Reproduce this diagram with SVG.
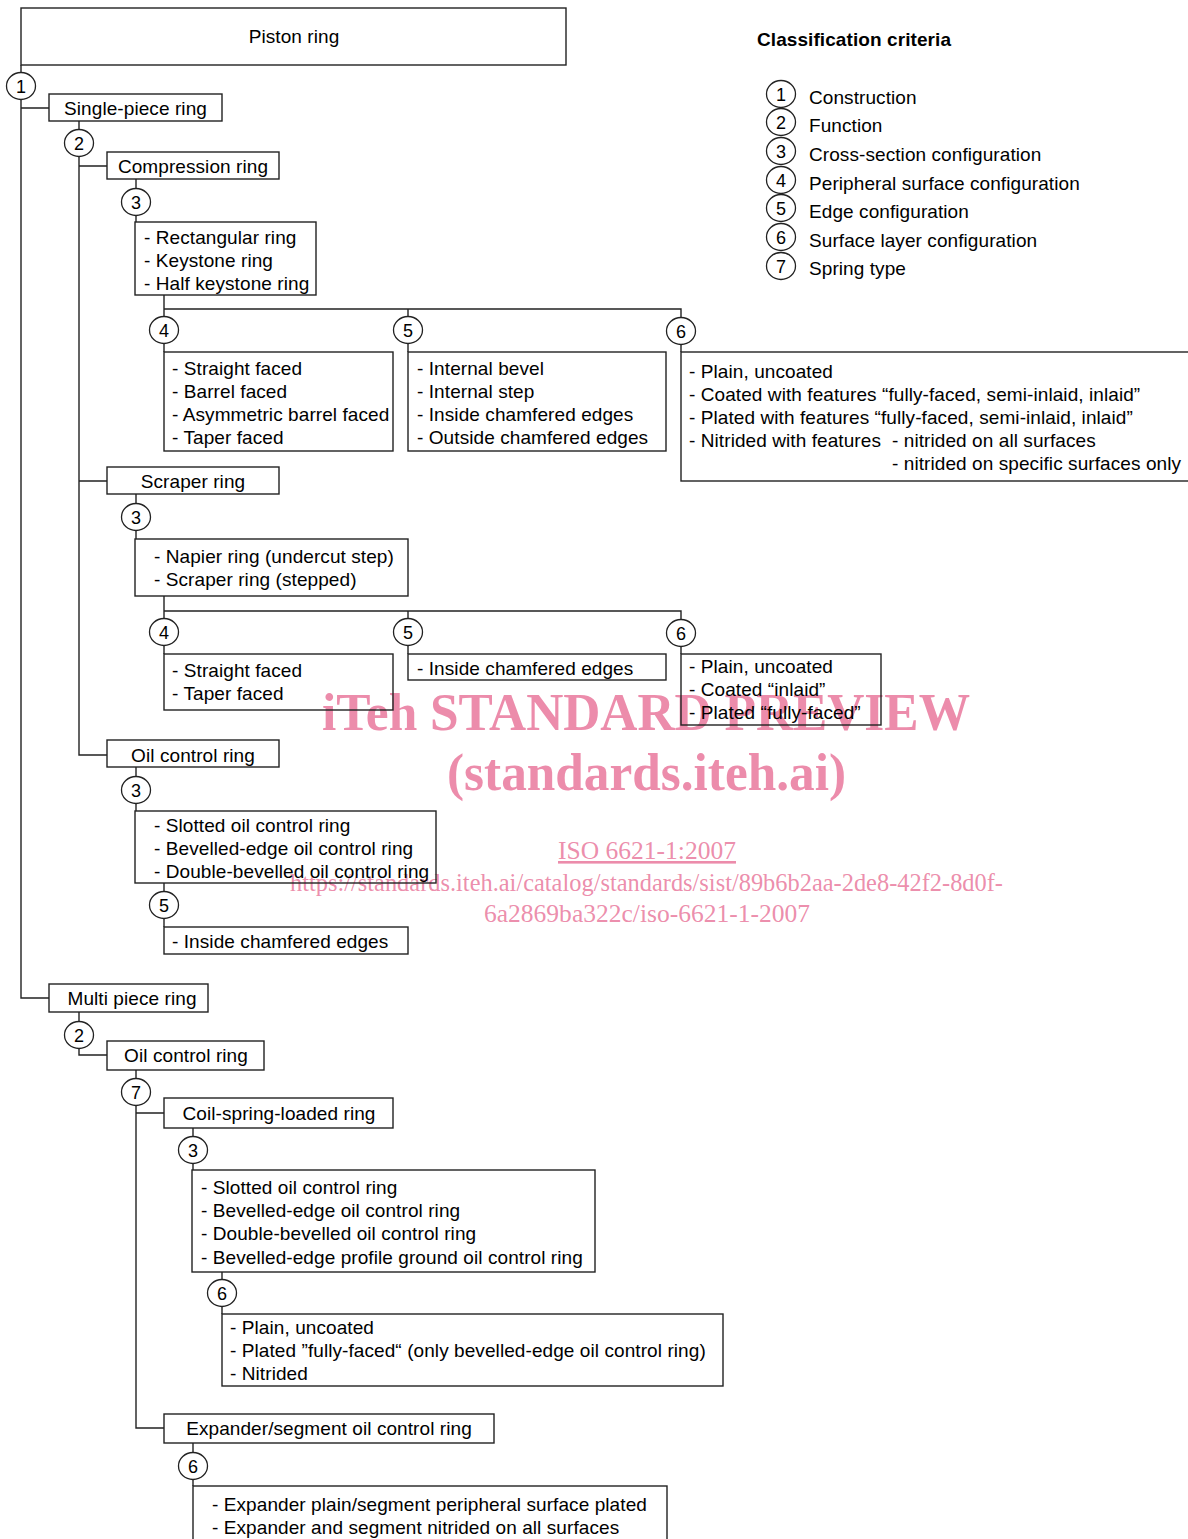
<svg xmlns="http://www.w3.org/2000/svg" width="1188" height="1539" viewBox="0 0 1188 1539">
<style>
.bx{fill:none;stroke:#222;stroke-width:1.4}
.ln{fill:none;stroke:#222;stroke-width:1.4}
.ci{fill:#fff;stroke:#222;stroke-width:1.3}
.t{font-family:"Liberation Sans",Arial,sans-serif;font-size:19px;fill:#000;letter-spacing:0.08px}
.c{text-anchor:middle}
.n{font-family:"Liberation Sans",Arial,sans-serif;font-size:18px;fill:#000;text-anchor:middle}
.b{font-weight:bold}
.wm{font-family:"Liberation Serif","Times New Roman",serif;fill:#ea7fa2;fill-opacity:0.9}
</style>
<rect width="1188" height="1539" fill="#fff"/>

<g id="watermark">
<text class="wm" x="322" y="730" font-size="52" font-weight="bold" textLength="648" lengthAdjust="spacingAndGlyphs">iTeh STANDARD PREVIEW</text>
<text class="wm" x="447" y="790" font-size="52" font-weight="bold" textLength="399" lengthAdjust="spacingAndGlyphs">(standards.iteh.ai)</text>
<text class="wm" x="558" y="859" font-size="26" text-decoration="underline" textLength="178" lengthAdjust="spacingAndGlyphs">ISO 6621-1:2007</text>
<text class="wm" x="290" y="891" font-size="26" textLength="713" lengthAdjust="spacingAndGlyphs">https://standards.iteh.ai/catalog/standards/sist/89b6b2aa-2de8-42f2-8d0f-</text>
<text class="wm" x="484" y="922" font-size="26" textLength="326" lengthAdjust="spacingAndGlyphs">6a2869ba322c/iso-6621-1-2007</text>
</g>

<g id="connectors">
<path class="ln" d="M21 65V998H49M21 108H49"/>
<path class="ln" d="M79 121V755H107M79 166H107M79 481H107"/>
<path class="ln" d="M136 179V222"/>
<path class="ln" d="M164 295V352M164 309H681V352M408 309V352"/>
<path class="ln" d="M136 494V539"/>
<path class="ln" d="M164 596V654M164 611H681V654M408 611V654"/>
<path class="ln" d="M136 767V811"/>
<path class="ln" d="M164 883V927"/>
<path class="ln" d="M79 1012V1055H107"/>
<path class="ln" d="M136 1070V1428H164M136 1113H164"/>
<path class="ln" d="M193 1128V1170"/>
<path class="ln" d="M222 1272V1314"/>
<path class="ln" d="M193 1443V1486"/>
</g>

<g id="piston-ring"><rect class="bx" x="21" y="8" width="545" height="57"/><text class="t c" x="294" y="43">Piston ring</text></g>
<g id="c1"><ellipse class="ci" cx="21" cy="86" rx="14.5" ry="13.5"/><text class="n" x="21" y="92.5">1</text></g>
<g id="single-piece"><rect class="bx" x="49" y="94" width="173" height="27"/><text class="t c" x="135.5" y="115">Single-piece ring</text></g>
<g id="c2a"><ellipse class="ci" cx="79" cy="143" rx="14.5" ry="13.5"/><text class="n" x="79" y="149.5">2</text></g>
<g id="compression"><rect class="bx" x="107" y="152" width="172" height="27"/><text class="t c" x="193" y="173">Compression ring</text></g>
<g id="c3a"><ellipse class="ci" cx="136" cy="202" rx="14.5" ry="13.5"/><text class="n" x="136" y="208.5">3</text></g>
<g id="comp-cross"><rect class="bx" x="135" y="222" width="181" height="73"/>
<text class="t" x="144" y="244">- Rectangular ring</text><text class="t" x="144" y="267">- Keystone ring</text><text class="t" x="144" y="290">- Half keystone ring</text></g>
<g id="c4a"><ellipse class="ci" cx="164" cy="330" rx="14.5" ry="13.5"/><text class="n" x="164" y="336.5">4</text></g>
<g id="c5a"><ellipse class="ci" cx="408" cy="330" rx="14.5" ry="13.5"/><text class="n" x="408" y="336.5">5</text></g>
<g id="c6a"><ellipse class="ci" cx="681" cy="331" rx="14.5" ry="13.5"/><text class="n" x="681" y="337.5">6</text></g>
<g id="comp-periph"><rect class="bx" x="164" y="352" width="229" height="99"/>
<text class="t" x="172" y="375">- Straight faced</text><text class="t" x="172" y="398">- Barrel faced</text><text class="t" x="172" y="421">- Asymmetric barrel faced</text><text class="t" x="172" y="444">- Taper faced</text></g>
<g id="comp-edge"><rect class="bx" x="408" y="352" width="258" height="99"/>
<text class="t" x="417" y="375">- Internal bevel</text><text class="t" x="417" y="398">- Internal step</text><text class="t" x="417" y="421">- Inside chamfered edges</text><text class="t" x="417" y="444">- Outside chamfered edges</text></g>
<g id="comp-surface"><rect class="bx" x="681" y="352" width="530" height="129"/>
<text class="t" x="689" y="378">- Plain, uncoated</text>
<text class="t" x="689" y="401">- Coated with features “fully-faced, semi-inlaid, inlaid”</text>
<text class="t" x="689" y="424">- Plated with features “fully-faced, semi-inlaid, inlaid”</text>
<text class="t" x="689" y="447">- Nitrided with features<tspan x="892">- nitrided on all surfaces</tspan></text>
<text class="t" x="892" y="470">- nitrided on specific surfaces only</text></g>

<g id="scraper"><rect class="bx" x="107" y="467" width="172" height="27"/><text class="t c" x="193" y="488">Scraper ring</text></g>
<g id="c3b"><ellipse class="ci" cx="136" cy="517" rx="14.5" ry="13.5"/><text class="n" x="136" y="523.5">3</text></g>
<g id="scraper-cross"><rect class="bx" x="135" y="539" width="273" height="57"/>
<text class="t" x="154" y="563">- Napier ring (undercut step)</text><text class="t" x="154" y="586">- Scraper ring (stepped)</text></g>
<g id="c4b"><ellipse class="ci" cx="164" cy="632" rx="14.5" ry="13.5"/><text class="n" x="164" y="638.5">4</text></g>
<g id="c5b"><ellipse class="ci" cx="408" cy="632" rx="14.5" ry="13.5"/><text class="n" x="408" y="638.5">5</text></g>
<g id="c6b"><ellipse class="ci" cx="681" cy="633" rx="14.5" ry="13.5"/><text class="n" x="681" y="639.5">6</text></g>
<g id="scraper-periph"><rect class="bx" x="164" y="654" width="229" height="56"/>
<text class="t" x="172" y="677">- Straight faced</text><text class="t" x="172" y="700">- Taper faced</text></g>
<g id="scraper-edge"><rect class="bx" x="408" y="654" width="258" height="26"/>
<text class="t" x="417" y="675">- Inside chamfered edges</text></g>
<g id="scraper-surface"><rect class="bx" x="681" y="654" width="200" height="71"/>
<text class="t" x="689" y="673">- Plain, uncoated</text><text class="t" x="689" y="696">- Coated “inlaid”</text><text class="t" x="689" y="719">- Plated “fully-faced”</text></g>

<g id="oil-single"><rect class="bx" x="107" y="740" width="172" height="27"/><text class="t c" x="193" y="762">Oil control ring</text></g>
<g id="c3c"><ellipse class="ci" cx="136" cy="790" rx="14.5" ry="13.5"/><text class="n" x="136" y="796.5">3</text></g>
<g id="oil-cross"><rect class="bx" x="135" y="811" width="301" height="72"/>
<text class="t" x="154" y="832">- Slotted oil control ring</text><text class="t" x="154" y="855">- Bevelled-edge oil control ring</text><text class="t" x="154" y="878">- Double-bevelled oil control ring</text></g>
<g id="c5c"><ellipse class="ci" cx="164" cy="905" rx="14.5" ry="13.5"/><text class="n" x="164" y="911.5">5</text></g>
<g id="oil-edge"><rect class="bx" x="164" y="927" width="244" height="27"/>
<text class="t" x="172" y="948">- Inside chamfered edges</text></g>

<g id="multi-piece"><rect class="bx" x="49" y="984" width="159" height="28"/><text class="t c" x="132" y="1005">Multi piece ring</text></g>
<g id="c2b"><ellipse class="ci" cx="79" cy="1035" rx="14.5" ry="13.5"/><text class="n" x="79" y="1041.5">2</text></g>
<g id="oil-multi"><rect class="bx" x="107" y="1041" width="157" height="29"/><text class="t c" x="186" y="1062">Oil control ring</text></g>
<g id="c7"><ellipse class="ci" cx="136" cy="1092" rx="14.5" ry="13.5"/><text class="n" x="136" y="1098.5">7</text></g>
<g id="coil"><rect class="bx" x="164" y="1098" width="229" height="30"/><text class="t c" x="279" y="1120">Coil-spring-loaded ring</text></g>
<g id="c3d"><ellipse class="ci" cx="193" cy="1150" rx="14.5" ry="13.5"/><text class="n" x="193" y="1156.5">3</text></g>
<g id="coil-cross"><rect class="bx" x="192" y="1170" width="403" height="102"/>
<text class="t" x="201" y="1194">- Slotted oil control ring</text><text class="t" x="201" y="1217">- Bevelled-edge oil control ring</text><text class="t" x="201" y="1240">- Double-bevelled oil control ring</text><text class="t" x="201" y="1264">- Bevelled-edge profile ground oil control ring</text></g>
<g id="c6c"><ellipse class="ci" cx="222" cy="1293" rx="14.5" ry="13.5"/><text class="n" x="222" y="1299.5">6</text></g>
<g id="coil-surface"><rect class="bx" x="222" y="1314" width="501" height="72"/>
<text class="t" x="230" y="1334">- Plain, uncoated</text><text class="t" x="230" y="1357">- Plated ”fully-faced“ (only bevelled-edge oil control ring)</text><text class="t" x="230" y="1380">- Nitrided</text></g>
<g id="expander"><rect class="bx" x="164" y="1414" width="330" height="29"/><text class="t c" x="329" y="1435">Expander/segment oil control ring</text></g>
<g id="c6d"><ellipse class="ci" cx="193" cy="1466" rx="14.5" ry="13.5"/><text class="n" x="193" y="1472.5">6</text></g>
<g id="expander-surface"><rect class="bx" x="193" y="1486" width="474" height="80"/>
<text class="t" x="212" y="1511">- Expander plain/segment peripheral surface plated</text><text class="t" x="212" y="1534">- Expander and segment nitrided on all surfaces</text></g>

<g id="legend">
<text class="t b" x="757" y="46">Classification criteria</text>
<ellipse class="ci" cx="781" cy="94" rx="14.5" ry="13.5"/><text class="n" x="781" y="100.5">1</text><text class="t" x="809" y="104">Construction</text>
<ellipse class="ci" cx="781" cy="122" rx="14.5" ry="13.5"/><text class="n" x="781" y="128.5">2</text><text class="t" x="809" y="132">Function</text>
<ellipse class="ci" cx="781" cy="151" rx="14.5" ry="13.5"/><text class="n" x="781" y="157.5">3</text><text class="t" x="809" y="161">Cross-section configuration</text>
<ellipse class="ci" cx="781" cy="180" rx="14.5" ry="13.5"/><text class="n" x="781" y="186.5">4</text><text class="t" x="809" y="190">Peripheral surface configuration</text>
<ellipse class="ci" cx="781" cy="208" rx="14.5" ry="13.5"/><text class="n" x="781" y="214.5">5</text><text class="t" x="809" y="218">Edge configuration</text>
<ellipse class="ci" cx="781" cy="237" rx="14.5" ry="13.5"/><text class="n" x="781" y="243.5">6</text><text class="t" x="809" y="247">Surface layer configuration</text>
<ellipse class="ci" cx="781" cy="266" rx="14.5" ry="13.5"/><text class="n" x="781" y="272.5">7</text><text class="t" x="809" y="275">Spring type</text>
</g>
</svg>
